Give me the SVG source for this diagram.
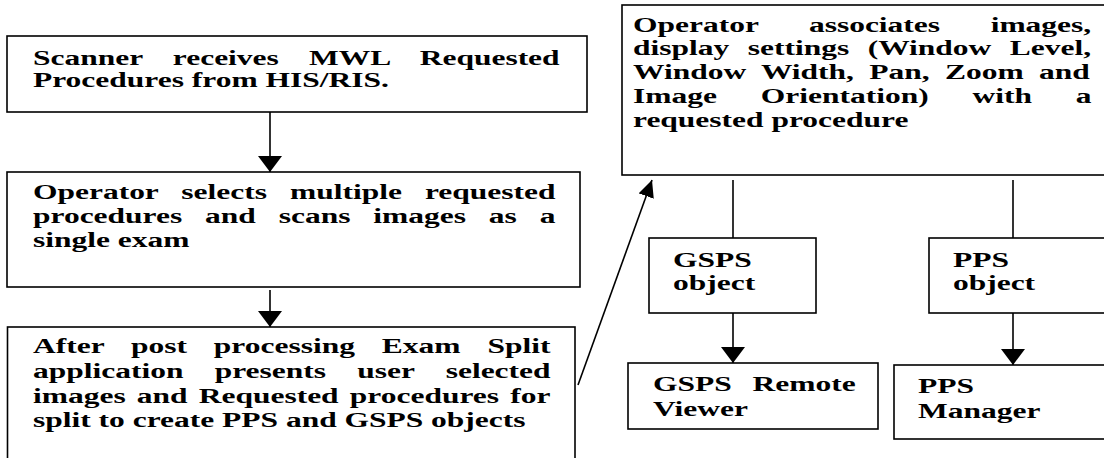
<svg xmlns="http://www.w3.org/2000/svg" width="1104" height="458" viewBox="0 0 1104 458">
<style>
.box{fill:#fff;stroke:#000;stroke-width:1.6}
.t{font-family:"Liberation Serif","Times New Roman",serif;font-weight:bold;font-size:21px;fill:#000}
.c{stroke:#000;stroke-width:1.6;fill:none}
</style>
<defs>
<marker id="ah" markerUnits="userSpaceOnUse" markerWidth="16" markerHeight="24" refX="16" refY="12" orient="auto">
<path d="M0,0 L16,12 L0,24 z" fill="#000"/>
</marker>
<marker id="ahs" markerUnits="userSpaceOnUse" markerWidth="17" markerHeight="16" refX="17" refY="8" orient="auto">
<path d="M0,0 L17,8 L0,16 z" fill="#000"/>
</marker>
</defs>
<rect width="1104" height="458" fill="#fff"/>

<g id="n1">
<rect class="box" x="7" y="36" width="580" height="76"/>
<g transform="scale(1.5 1)">
<text class="t" x="22" y="65" word-spacing="14.9">Scanner receives MWL Requested</text>
<text class="t" x="22" y="87">Procedures from HIS/RIS.</text>
</g>
</g>

<g id="n2">
<rect class="box" x="7" y="172" width="573" height="115"/>
<g transform="scale(1.5 1)">
<text class="t" x="22" y="199" word-spacing="10.1">Operator selects multiple requested</text>
<text class="t" x="22" y="223" word-spacing="10">procedures and scans images as a</text>
<text class="t" x="22" y="247">single exam</text>
</g>
</g>

<g id="n3">
<rect class="box" x="7.5" y="327" width="567.5" height="150"/>
<g transform="scale(1.5 1)">
<text class="t" x="22" y="353" word-spacing="12.7">After post processing Exam Split</text>
<text class="t" x="22" y="378" word-spacing="15.6">application presents user selected</text>
<text class="t" x="22" y="403" word-spacing="2.2">images and Requested procedures for</text>
<text class="t" x="22" y="427">split to create PPS and GSPS objects</text>
</g>
</g>

<g id="n4">
<rect class="box" x="622" y="5" width="500" height="170"/>
<g transform="scale(1.5 1)">
<text class="t" x="422" y="32" word-spacing="28.5">Operator associates images,</text>
<text class="t" x="422" y="55" word-spacing="7.1">display settings (Window Level,</text>
<text class="t" x="422" y="79" word-spacing="5">Window Width, Pan, Zoom and</text>
<text class="t" x="422" y="103" word-spacing="24">Image Orientation) with a</text>
<text class="t" x="422" y="127">requested procedure</text>
</g>
</g>

<g id="n5">
<rect class="box" x="649" y="238" width="167" height="75"/>
<g transform="scale(1.5 1)">
<text class="t" x="448.7" y="267">GSPS</text>
<text class="t" x="448.7" y="290">object</text>
</g>
</g>

<g id="n6">
<rect class="box" x="929" y="238" width="200" height="75"/>
<g transform="scale(1.5 1)">
<text class="t" x="635.3" y="267">PPS</text>
<text class="t" x="635.3" y="290">object</text>
</g>
</g>

<g id="n7">
<rect class="box" x="628" y="363" width="250" height="66"/>
<g transform="scale(1.5 1)">
<text class="t" x="435.3" y="391" word-spacing="8.7">GSPS Remote</text>
<text class="t" x="435.3" y="416">Viewer</text>
</g>
</g>

<g id="n8">
<rect class="box" x="894" y="365" width="230" height="74"/>
<g transform="scale(1.5 1)">
<text class="t" x="612" y="393">PPS</text>
<text class="t" x="612" y="418">Manager</text>
</g>
</g>

<g id="connectors">
<line class="c" x1="270" y1="112" x2="270" y2="172" marker-end="url(#ah)"/>
<line class="c" x1="270" y1="290" x2="270" y2="327" marker-end="url(#ah)"/>
<line class="c" x1="578" y1="385" x2="652" y2="180" marker-end="url(#ahs)"/>
<line class="c" x1="733" y1="180" x2="733" y2="238"/>
<line class="c" x1="1013" y1="180" x2="1013" y2="238"/>
<line class="c" x1="733" y1="313" x2="733" y2="363" marker-end="url(#ah)"/>
<line class="c" x1="1013" y1="313" x2="1013" y2="365" marker-end="url(#ah)"/>
</g>
</svg>
